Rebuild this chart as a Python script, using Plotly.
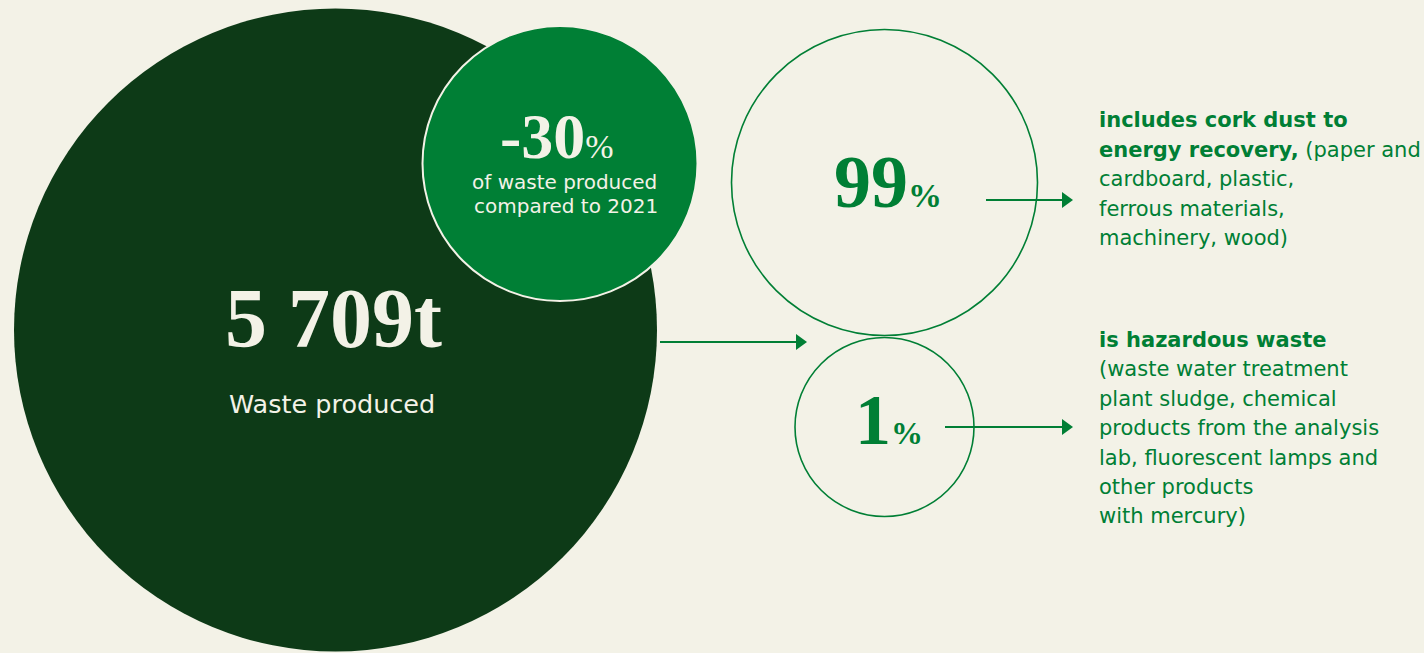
import plotly.graph_objects as go

# ---- data ----
total_waste_t = "5 709"
total_label = "Waste produced"
change_pct = "-30"
change_label = ["of waste produced", "compared to 2021"]
share_values = ["99", "1"]
share_text_1 = [
    "<b>includes cork dust to</b>",
    "<b>energy recovery,</b> (paper and",
    "cardboard, plastic,",
    "ferrous materials,",
    "machinery, wood)",
]
share_text_2 = [
    "<b>is hazardous waste</b>",
    "(waste water treatment",
    "plant sludge, chemical",
    "products from the analysis",
    "lab, fluorescent lamps and",
    "other products",
    "with mercury)",
]

BG = "#f3f2e7"
DARK = "#0d3a17"
GREEN = "#007f35"
CREAM = "#f3f2e7"
SERIF = "Liberation Serif"
SANS = "DejaVu Sans"

W, H = 1424, 653
fig = go.Figure()
fig.add_trace(go.Scatter(x=[0], y=[0], mode="markers", marker=dict(opacity=0), hoverinfo="skip", showlegend=False))

shapes = []
def circle(cx, cy, r, fill, line_color, lw):
    shapes.append(dict(type="circle", xref="x", yref="y", x0=cx - r, x1=cx + r, y0=cy - r, y1=cy + r,
                       fillcolor=fill, line=dict(color=line_color, width=lw), layer="below"))

circle(335.5, 330, 321.5, DARK, DARK, 0)
circle(560, 163.5, 137.5, GREEN, CREAM, 2)
circle(884.5, 182.5, 153, "rgba(0,0,0,0)", GREEN, 1.6)
circle(884.5, 427, 89.5, "rgba(0,0,0,0)", GREEN, 1.6)

def arrow(x0, x1, y):
    shapes.append(dict(type="line", xref="x", yref="y", x0=x0, x1=x1 - 8, y0=y, y1=y,
                       line=dict(color=GREEN, width=2)))
    shapes.append(dict(type="path", xref="x", yref="y",
                       path=f"M {x1-11},{y-8} L {x1},{y} L {x1-11},{y+8} Z",
                       fillcolor=GREEN, line=dict(color=GREEN, width=0)))

arrow(660, 807, 342)
arrow(986, 1073, 200)
arrow(945, 1073, 427)

ann = []
def text(x, y, t, size, color, family, xanchor="center"):
    ann.append(dict(x=x, y=y, xref="x", yref="y", text=t, showarrow=False, xanchor=xanchor,
                    yanchor="middle", align="left" if xanchor == "left" else "center",
                    font=dict(size=size, color=color, family=family)))

text(333, 318, f"<b>{total_waste_t}t</b>", 84, CREAM, SERIF)
text(332, 404, total_label, 25.5, CREAM, SANS)

text(557, 136, f"<b>{change_pct}</b><span style='font-size:34px'>%</span>", 64, CREAM, SERIF)
text(564, 182, change_label[0], 20, CREAM, SANS)
text(566, 206, change_label[1], 20, CREAM, SANS)

text(888, 182, f"<b>{share_values[0]}</b><span style='font-size:34px'><b>%</b></span>", 74, GREEN, SERIF)
text(889, 420, f"<b>{share_values[1]}</b><span style='font-size:32px'><b>%</b></span>", 72, GREEN, SERIF)

for i, line in enumerate(share_text_1):
    text(1097, 120 + i * 29.5, line, 21, GREEN, SANS, xanchor="left")
for i, line in enumerate(share_text_2):
    text(1097, 340 + i * 29.4, line, 21, GREEN, SANS, xanchor="left")

fig.update_layout(
    width=W, height=H, margin=dict(l=0, r=0, t=0, b=0),
    paper_bgcolor=BG, plot_bgcolor=BG, showlegend=False,
    xaxis=dict(range=[0, W], visible=False, fixedrange=True),
    yaxis=dict(range=[H, 0], visible=False, fixedrange=True),
    shapes=shapes, annotations=ann,
)
fig.write_html("out.html", config={"displayModeBar": False})
